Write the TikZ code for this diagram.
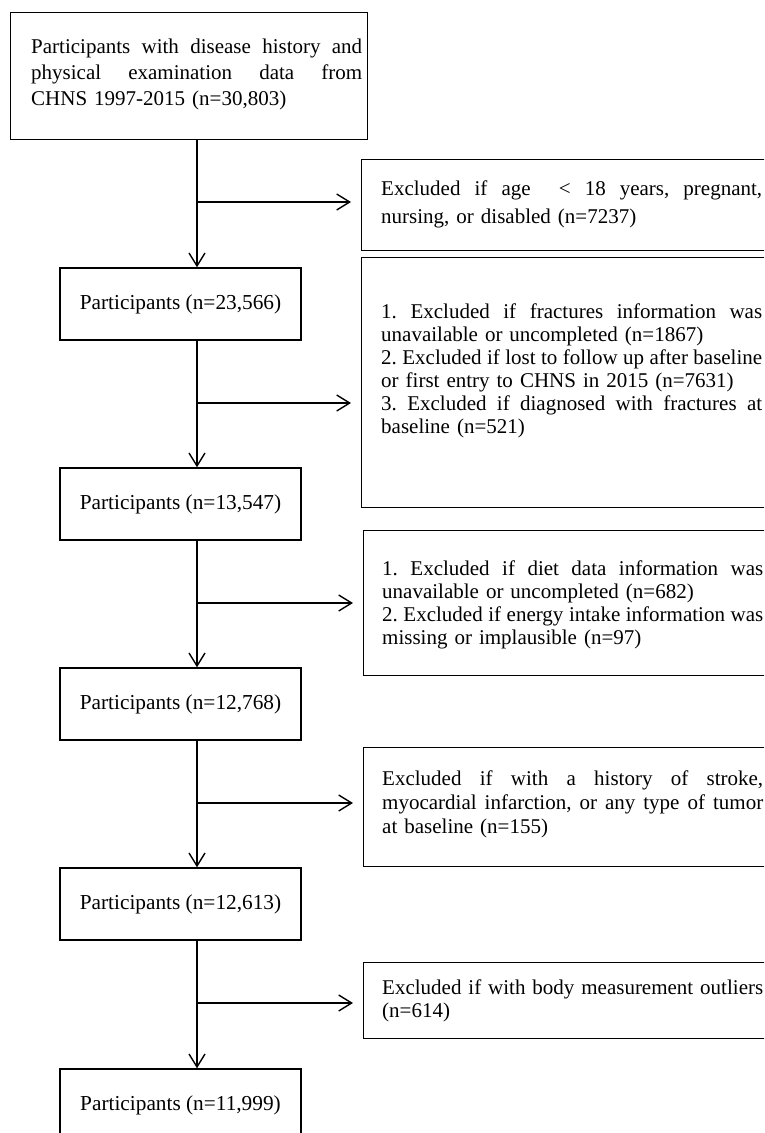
\documentclass[tikz,border=0pt]{standalone}
\usepackage{fontspec}
\setmainfont{Liberation Serif}
\usetikzlibrary{arrows.meta}
\newcommand\jl[1]{{\spaceskip=0.25em plus 2em minus 0.1em\xspaceskip=\spaceskip\makebox[\hsize][s]{#1}}}
\frenchspacing
\begin{document}
\begin{tikzpicture}[x=1pt,y=-1pt,
  box/.style={draw, line width=1.4pt},
  pbox/.style={box, minimum width=241pt, minimum height=72pt, inner sep=0pt, font=\fontsize{21.3}{24}\selectfont},
  ebox/.style={box, anchor=north west, minimum width=421pt, inner sep=0pt},
  etext/.style={anchor=base west, inner sep=0pt, text width=381pt, align=left, font=\fontsize{21}{23}\selectfont},
  arr/.style={line width=1.4pt, -{Straight Barb[length=13pt,width=16pt,line width=1.4pt]}}
]
\useasboundingbox (0,0) rectangle (764,1133);
\clip (0,0) rectangle (764,1133);
\fill[white] (0,0) rectangle (764,1133);

% main column
\node[box, anchor=north west, minimum width=357pt, minimum height=127pt, inner sep=0pt] (top) at (10,12) {};
\node[etext, text width=331pt, font=\fontsize{21}{26}\selectfont] (topt) at (31,53)
  {\jl{Participants with disease history and}\\
   \jl{physical examination data from}\\
   CHNS 1997-2015 (n=30,803)};

\node[pbox] (p2) at (180.5,304) {Participants (n=23,566)};
\node[pbox] (p3) at (180.5,504) {Participants (n=13,547)};
\node[pbox] (p4) at (180.5,704) {Participants (n=12,768)};
\node[pbox] (p5) at (180.5,904) {Participants (n=12,613)};
\node[pbox] (p6) at (180.5,1105) {Participants (n=11,999)};

% exclusion boxes
\node[ebox, minimum height=91pt] (e1) at (361,159) {};
\node[etext, font=\fontsize{21}{28}\selectfont] (e1t) at (381,195)
  {\jl{Excluded if age \ < 18 years, pregnant,}\\
   nursing, or disabled (n=7237)};

\node[ebox, minimum height=250pt] (e2) at (361,257) {};
\node[etext] (e2t) at (381,318)
  {\jl{1. Excluded if fractures information was}\\
   unavailable or uncompleted (n=1867)\\
   \jl{2. Excluded if lost to follow up after baseline}\\
   or first entry to CHNS in 2015 (n=7631)\\
   \jl{3. Excluded if diagnosed with fractures at}\\
   baseline (n=521)};

\node[ebox, minimum height=145pt] (e3) at (363,530) {};
\node[etext] (e3t) at (382,575)
  {\jl{1. Excluded if diet data information was}\\
   unavailable or uncompleted (n=682)\\
   \jl{2. Excluded if energy intake information was}\\
   missing or implausible (n=97)};

\node[ebox, minimum height=119pt] (e4) at (363,747) {};
\node[etext, font=\fontsize{21}{24}\selectfont] (e4t) at (382,785)
  {\jl{Excluded if with a history of stroke,}\\
   \jl{myocardial infarction, or any type of tumor}\\
   at baseline (n=155)};

\node[ebox, minimum height=76pt] (e5) at (363,962) {};
\node[etext] (e5t) at (382,994)
  {\jl{Excluded if with body measurement outliers}\\
   (n=614)};

% connectors
\coordinate (tx) at (197,0);
\coordinate (b1) at (197,202);
\coordinate (b2) at (197,403);
\coordinate (b3) at (197,603);
\coordinate (b4) at (197,803);
\coordinate (b5) at (197,1003);

\draw[arr] (top.south -| tx) -- (p2.north -| tx);
\draw[arr] (p2.south -| tx) -- (p3.north -| tx);
\draw[arr] (p3.south -| tx) -- (p4.north -| tx);
\draw[arr] (p4.south -| tx) -- (p5.north -| tx);
\draw[arr] (p5.south -| tx) -- (p6.north -| tx);

\draw[arr, shorten >=10pt] (b1) -- (b1 -| e1.west);
\draw[arr, shorten >=10pt] (b2) -- (b2 -| e2.west);
\draw[arr, shorten >=10pt] (b3) -- (b3 -| e3.west);
\draw[arr, shorten >=10pt] (b4) -- (b4 -| e4.west);
\draw[arr, shorten >=10pt] (b5) -- (b5 -| e5.west);
\end{tikzpicture}
\end{document}
